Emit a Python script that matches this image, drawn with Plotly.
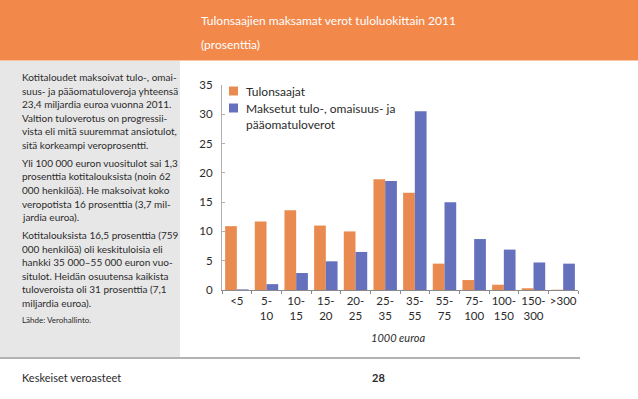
import plotly.graph_objects as go

# ---- data ----
categories = ["<5", "5-<br>10", "10-<br>15", "15-<br>20", "20-<br>25", "25-<br>35",
              "35-<br>55", "55-<br>75", "75-<br>100", "100-<br>150", "150-<br>300", ">300"]
tulonsaajat = [10.9, 11.7, 13.6, 11.0, 10.0, 18.9, 16.6, 4.5, 1.7, 0.9, 0.3, 0.05]
verot = [0.1, 1.0, 2.9, 4.9, 6.5, 18.6, 30.5, 15.0, 8.7, 6.9, 4.7, 4.5]
y_ticks = [0, 5, 10, 15, 20, 25, 30, 35]

series_names = ["Tulonsaajat", "Maksetut tulo-, omaisuus- ja<br>pääomatuloverot"]
title_lines = ["Tulonsaajien maksamat verot tuloluokittain 2011", "(prosenttia)"]
x_title = "1000 euroa"
paragraphs = [
    ["Kotitaloudet maksoivat tulo-, omai-",
     "suus- ja pääomatuloveroja yhteensä",
     "23,4 miljardia euroa vuonna 2011.",
     "Valtion tuloverotus on progressii-",
     "vista eli mitä suuremmat ansiotulot,",
     "sitä korkeampi veroprosentti."],
    ["Yli 100 000 euron vuositulot sai 1,3",
     "prosenttia kotitalouksista (noin 62",
     "000 henkilöä). He maksoivat koko",
     "veropotista 16 prosenttia (3,7 mil-",
     "jardia euroa)."],
    ["Kotitalouksista 16,5 prosenttia (759",
     "000 henkilöä) oli keskituloisia eli",
     "hankki 35 000–55 000 euron vuo-",
     "situlot. Heidän osuutensa kaikista",
     "tuloveroista oli 31 prosenttia (7,1",
     "miljardia euroa)."],
]
source_text = "Lähde: Verohallinto."
footer_left = "Keskeiset veroasteet"
footer_page = "28"

# ---- style ----
W, H = 638, 399
ORANGE = "#E98B50"
BLUE = "#6571BD"
HEADER = "#F3884B"
PANEL = "#E7E7E7"
TXT = "#2b2b2b"
FONT = "Lato, 'Open Sans', sans-serif"


def px(x):
    return x / W


def py(y):
    return 1 - y / H


fig = go.Figure()
fig.add_trace(go.Bar(x=categories, y=tulonsaajat, name=series_names[0],
                     marker=dict(color=ORANGE, line=dict(width=0))))
fig.add_trace(go.Bar(x=categories, y=verot, name=series_names[1],
                     marker=dict(color=BLUE, line=dict(width=0))))

shapes = [
    dict(type="rect", xref="paper", yref="paper", x0=0, x1=1, y0=py(60), y1=1,
         fillcolor=HEADER, line=dict(width=0), layer="below"),
    dict(type="line", xref="paper", yref="paper", x0=0, x1=1, y0=py(60.5), y1=py(60.5),
         line=dict(color="#F8C4A2", width=1), layer="below"),
    dict(type="rect", xref="paper", yref="paper", x0=0, x1=px(180), y0=py(357), y1=py(61),
         fillcolor=PANEL, line=dict(width=0), layer="below"),
    dict(type="line", xref="paper", yref="paper", x0=0, x1=px(580), y0=py(358), y1=py(358),
         line=dict(color="#9a9a9a", width=1.5), layer="below"),
    # legend swatches
    dict(type="rect", xref="paper", yref="paper", x0=px(229), x1=px(238), y0=py(95.5), y1=py(86.5),
         fillcolor=ORANGE, line=dict(width=0)),
    dict(type="rect", xref="paper", yref="paper", x0=px(229), x1=px(238), y0=py(112.5), y1=py(103.5),
         fillcolor=BLUE, line=dict(width=0)),
]

ann = []
# header title
for i, t in enumerate(title_lines):
    ann.append(dict(text=t, x=px(199), y=py(21 + i * 23), xref="paper", yref="paper",
                    xanchor="left", yanchor="middle", showarrow=False,
                    font=dict(family=FONT, size=12, color="white")))
# left panel text
y = 77.0
LS = 13.6
for p, lines in enumerate(paragraphs):
    for ln in lines:
        ann.append(dict(text=ln, x=px(20), y=py(y), xref="paper", yref="paper",
                        xanchor="left", yanchor="middle", showarrow=False,
                        font=dict(family=FONT, size=10, color=TXT)))
        y += LS
    y += 4.2
ann.append(dict(text=source_text, x=px(20), y=py(y - 1), xref="paper", yref="paper",
                xanchor="left", yanchor="middle", showarrow=False,
                font=dict(family=FONT, size=8, color=TXT)))
# legend texts
ann.append(dict(text=series_names[0], x=px(244), y=py(91), xref="paper", yref="paper",
                xanchor="left", yanchor="middle", showarrow=False,
                font=dict(family=FONT, size=12, color=TXT)))
for i, t in enumerate(series_names[1].split("<br>")):
    ann.append(dict(text=t, x=px(244), y=py(108 + 17 * i), xref="paper", yref="paper",
                    xanchor="left", yanchor="middle", showarrow=False,
                    font=dict(family=FONT, size=12, color=TXT)))
# x axis title
ann.append(dict(text="<i>" + x_title + "</i>", x=px(398), y=py(337), xref="paper", yref="paper",
                xanchor="center", yanchor="middle", showarrow=False,
                font=dict(family=FONT, size=11, color=TXT)))
# footer
ann.append(dict(text=footer_left, x=px(20), y=py(377), xref="paper", yref="paper",
                xanchor="left", yanchor="middle", showarrow=False,
                font=dict(family=FONT, size=11, color=TXT)))
ann.append(dict(text=footer_page, x=px(378), y=py(377), xref="paper", yref="paper",
                xanchor="center", yanchor="middle", showarrow=False,
                font=dict(family=FONT, size=11, color=TXT, weight="bold")))

fig.update_layout(
    width=W, height=H,
    margin=dict(l=0, r=0, t=0, b=0),
    paper_bgcolor="white", plot_bgcolor="rgba(0,0,0,0)",
    barmode="group", bargap=0.21, bargroupgap=0,
    showlegend=False, hovermode=False,
    font=dict(family=FONT, size=11, color=TXT),
    shapes=shapes, annotations=ann,
    xaxis=dict(domain=[px(222), px(578)], type="category", showgrid=False,
               showline=True, linecolor="#8a8a8a", linewidth=1,
               ticks="outside", tickson="boundaries", ticklen=3, tickcolor="#8a8a8a",
               tickangle=0, automargin=False,
               tickfont=dict(family=FONT, size=11.5, color=TXT)),
    yaxis=dict(domain=[py(290), py(85)], range=[0, 35], tickvals=y_ticks,
               showgrid=False, zeroline=False, automargin=False,
               showline=True, linecolor="#b0b0b0", linewidth=1,
               ticks="inside", ticklen=3, tickcolor="#b0b0b0",
               tickfont=dict(family=FONT, size=11.5, color=TXT), ticklabelstandoff=6),
)

fig.write_html("out.html", config={"displayModeBar": False, "staticPlot": True},
               post_script="document.body.style.margin='0';document.body.style.overflow='hidden';")
